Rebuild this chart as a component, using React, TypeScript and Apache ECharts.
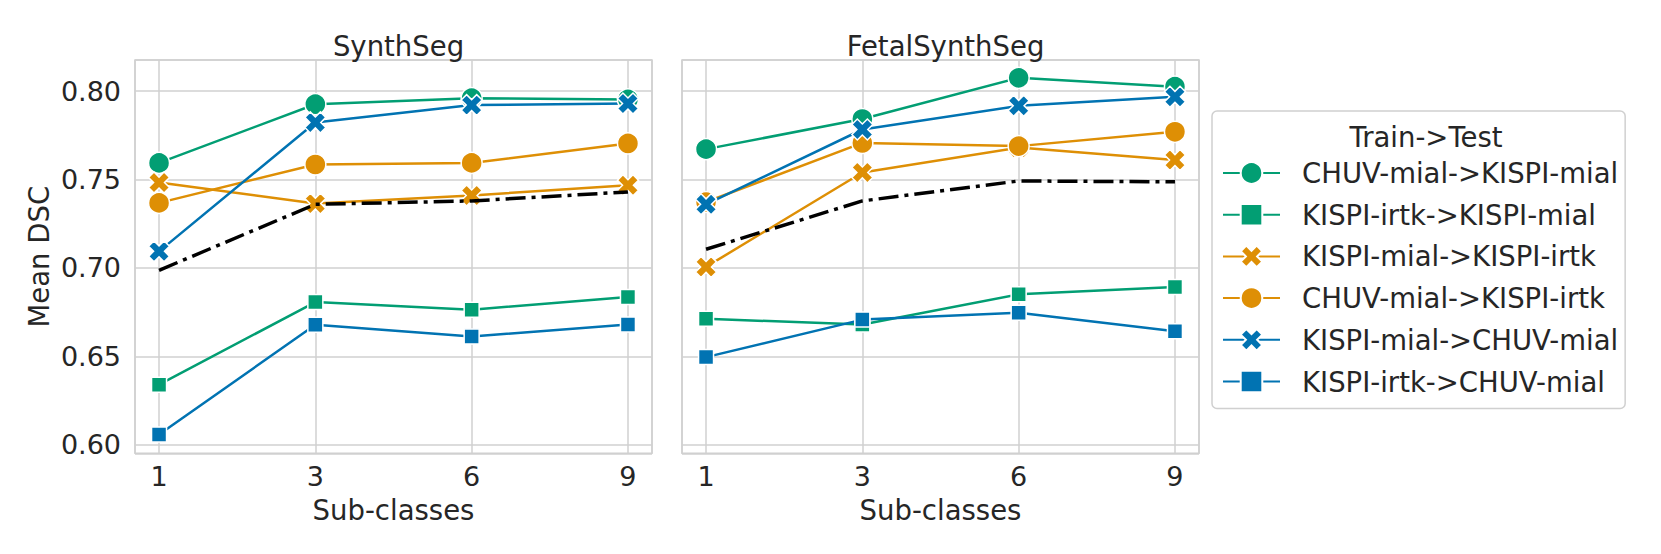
import React, { useEffect, useRef } from "react";
import * as echarts from "echarts";

const xLabels = ["1", "3", "6", "9"];
const panelTitles = ["SynthSeg", "FetalSynthSeg"];
const seriesNames = [
  "CHUV-mial->KISPI-mial",
  "KISPI-irtk->KISPI-mial",
  "KISPI-mial->KISPI-irtk",
  "CHUV-mial->KISPI-irtk",
  "KISPI-mial->CHUV-mial",
  "KISPI-irtk->CHUV-mial",
];

// SynthSeg panel
const synthChuvMialToKispiMial = [0.7594, 0.7926, 0.796, 0.7953];
const synthKispiIrtkToKispiMial = [0.634, 0.6807, 0.6764, 0.6836];
const synthKispiMialToKispiIrtk = [0.7483, 0.7364, 0.741, 0.7468];
const synthChuvMialToKispiIrtk = [0.7368, 0.7585, 0.7594, 0.7704];
const synthKispiMialToChuvMial = [0.7094, 0.7823, 0.7921, 0.793];
const synthKispiIrtkToChuvMial = [0.6058, 0.6679, 0.6613, 0.668];
const synthMean = [0.6987, 0.736, 0.7379, 0.743];

// FetalSynthSeg panel
const fetalChuvMialToKispiMial = [0.7672, 0.7842, 0.8075, 0.8025];
const fetalKispiIrtkToKispiMial = [0.6713, 0.668, 0.6851, 0.6892];
const fetalKispiMialToKispiIrtk = [0.7006, 0.754, 0.7681, 0.761];
const fetalChuvMialToKispiIrtk = [0.7373, 0.7707, 0.7689, 0.777];
const fetalKispiMialToChuvMial = [0.736, 0.7783, 0.7917, 0.7968];
const fetalKispiIrtkToChuvMial = [0.6496, 0.6708, 0.6747, 0.6642];
const fetalMean = [0.7106, 0.7379, 0.7492, 0.7487];

const yMin = 0.5952;
const yMax = 0.8176;
const xPad = 0.1538;

const GREEN = "#029e73";
const ORANGE = "#de8f05";
const BLUE = "#0173b2";
const TEXT = "#262626";
const GRIDC = "#d0d0d0";
const FONT = "DejaVu Sans";

const X_PATH =
  "path://M0,2.6L2.6,0L5,2.4L7.4,0L10,2.6L7.6,5L10,7.4L7.4,10L5,7.6L2.6,10L0,7.4L2.4,5Z";

const styles = [
  { color: GREEN, symbol: "circle", size: 21 },
  { color: GREEN, symbol: "rect", size: 15 },
  { color: ORANGE, symbol: X_PATH, size: 21 },
  { color: ORANGE, symbol: "circle", size: 21 },
  { color: BLUE, symbol: X_PATH, size: 21 },
  { color: BLUE, symbol: "rect", size: 15 },
];

export default function App() {
  const ref = useRef<HTMLDivElement>(null);
  useEffect(() => {
    if (!ref.current) return;
    const chart = echarts.init(ref.current, null, { renderer: "svg" });

    const panels = [
      {
        lines: [
          synthChuvMialToKispiMial,
          synthKispiIrtkToKispiMial,
          synthKispiMialToKispiIrtk,
          synthChuvMialToKispiIrtk,
          synthKispiMialToChuvMial,
          synthKispiIrtkToChuvMial,
        ],
        mean: synthMean,
      },
      {
        lines: [
          fetalChuvMialToKispiMial,
          fetalKispiIrtkToKispiMial,
          fetalKispiMialToKispiIrtk,
          fetalChuvMialToKispiIrtk,
          fetalKispiMialToChuvMial,
          fetalKispiIrtkToChuvMial,
        ],
        mean: fetalMean,
      },
    ];

    const series: any[] = [];
    panels.forEach((p, pi) => {
      p.lines.forEach((vals, si) => {
        const st = styles[si];
        series.push({
          type: "line",
          name: seriesNames[si],
          xAxisIndex: pi,
          yAxisIndex: pi,
          data: vals.map((v, i) => [i, v]),
          symbol: st.symbol,
          symbolSize: st.size,
          symbolKeepAspect: true,
          showAllSymbol: true,
          lineStyle: { color: st.color, width: 2.5 },
          itemStyle: { color: st.color, borderColor: "#ffffff", borderWidth: 1.5 },
          emphasis: { disabled: true },
          z: 3,
        });
      });
      series.push({
        type: "line",
        name: "mean",
        xAxisIndex: pi,
        yAxisIndex: pi,
        data: p.mean.map((v, i) => [i, v]),
        symbol: "none",
        lineStyle: { color: "#000000", width: 3.5, type: [20, 6, 4, 6] },
        itemStyle: { color: "#000000" },
        emphasis: { disabled: true },
        z: 4,
      });
    });

    const xAxisBase = (gi: number) => ({
      type: "value",
      gridIndex: gi,
      min: -xPad,
      max: 3 + xPad,
      splitNumber: 3,
      axisLine: { show: false },
      axisTick: { show: false },
      splitLine: { show: true, lineStyle: { color: GRIDC, width: 1.5 } },
      axisLabel: {
        show: true,
        fontFamily: FONT,
        fontSize: 27,
        color: TEXT,
        margin: 10,
        formatter: (v: number) => {
          const r = Math.round(v);
          return Math.abs(v - r) < 1e-6 && r >= 0 && r < xLabels.length ? xLabels[r] : "";
        },
      },
      name: "Sub-classes",
      nameLocation: "middle",
      nameGap: 43,
      nameTextStyle: { fontFamily: FONT, fontSize: 27.5, color: TEXT },
    });

    const yAxisBase = (gi: number) => ({
      type: "value",
      gridIndex: gi,
      min: yMin,
      max: yMax,
      splitNumber: 4,
      axisLine: { show: false },
      axisTick: { show: false },
      splitLine: { show: true, lineStyle: { color: GRIDC, width: 1.5 } },
      axisLabel: {
        show: gi === 0,
        fontFamily: FONT,
        fontSize: 27,
        color: TEXT,
        margin: 14,
        formatter: (v: number) =>
          Math.abs(v * 20 - Math.round(v * 20)) < 1e-6 ? v.toFixed(2) : "",
      },
      name: gi === 0 ? "Mean DSC" : "",
      nameLocation: "middle",
      nameGap: 82,
      nameTextStyle: { fontFamily: FONT, fontSize: 27.5, color: TEXT },
    });

    const titleStyle = { fontFamily: FONT, fontSize: 27.5, fontWeight: "normal", color: TEXT };

    chart.setOption({
      animation: false,
      backgroundColor: "#ffffff",
      title: [
        { text: panelTitles[0], left: 393.5, top: 27, textAlign: "center", textStyle: titleStyle },
        { text: panelTitles[1], left: 940.5, top: 27, textAlign: "center", textStyle: titleStyle },
        { text: "Train->Test", left: 1421, top: 118, textAlign: "center", z: 10, textStyle: titleStyle },
      ],
      grid: [
        {
          left: 135,
          top: 60,
          width: 517,
          height: 393.3,
          show: true,
          borderColor: GRIDC,
          borderWidth: 1.5,
          backgroundColor: "transparent",
        },
        {
          left: 682,
          top: 60,
          width: 517,
          height: 393.3,
          show: true,
          borderColor: GRIDC,
          borderWidth: 1.5,
          backgroundColor: "transparent",
        },
      ],
      xAxis: [xAxisBase(0), xAxisBase(1)],
      yAxis: [yAxisBase(0), yAxisBase(1)],
      legend: {
        data: seriesNames,
        orient: "vertical",
        left: 1212,
        top: 111,
        padding: [48, 7, 13, 10],
        itemWidth: 57,
        itemHeight: 27,
        itemGap: 13.7,
        selectedMode: false,
        backgroundColor: "#ffffff",
        borderColor: GRIDC,
        borderWidth: 1.5,
        borderRadius: 5,
        textStyle: {
          fontFamily: FONT,
          fontSize: 27.5,
          color: TEXT,
          padding: [0, 0, 0, 17],
        },
      },
      series,
    });

    return () => chart.dispose();
  }, []);

  return (
    <div
      ref={ref}
      style={{ position: "absolute", left: 0, top: 0, width: 1661, height: 554, background: "#fff" }}
    />
  );
}
